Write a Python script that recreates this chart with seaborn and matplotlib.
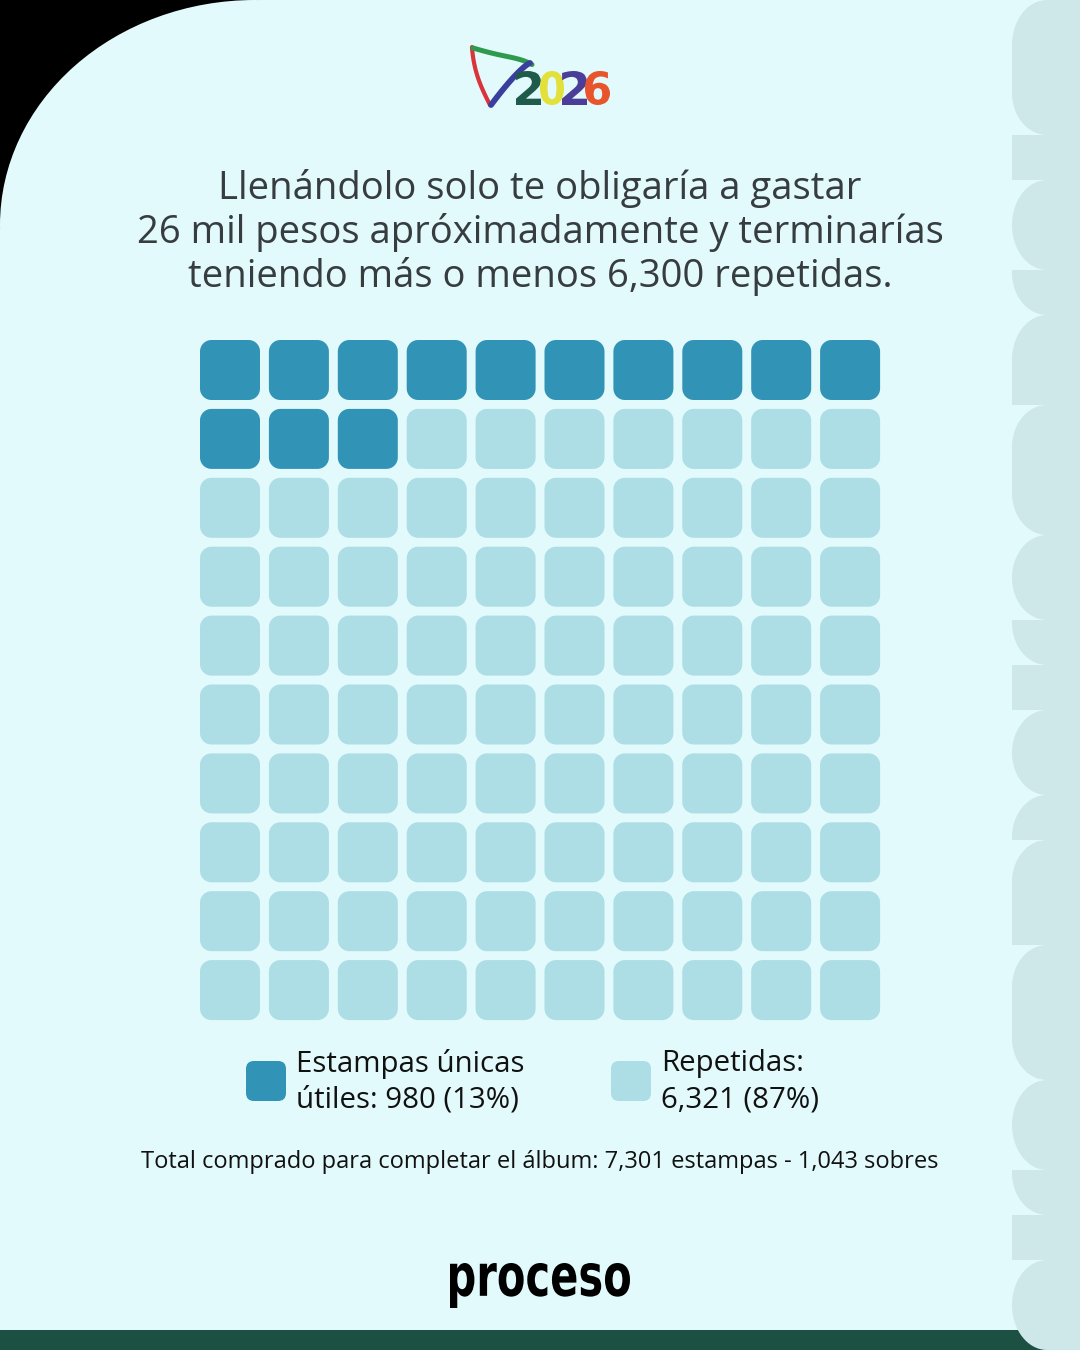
import numpy as np
import pandas as pd
import matplotlib
matplotlib.use("Agg")
import matplotlib.pyplot as plt
import seaborn as sns
from matplotlib.path import Path
from matplotlib.patches import PathPatch, Rectangle, Ellipse, FancyBboxPatch, Polygon
from matplotlib.textpath import TextPath
from matplotlib.font_manager import FontProperties
from matplotlib.transforms import Affine2D

# ---------------- data ----------------
categorias = ["Estampas únicas útiles", "Repetidas"]
estampas = [980, 6321]
sobres = 1043
titulo = ["Llenándolo solo te obligaría a gastar",
          "26 mil pesos apróximadamente y terminarías",
          "teniendo más o menos 6,300 repetidas."]
colores = ["#3193B5", "#ADDDE5"]

total = sum(estampas)
pct = [round(100 * v / total) for v in estampas]

# ---------------- style ----------------
sns.set_theme(style="white")
plt.rcParams["font.family"] = ["Open Sans", "DejaVu Sans"]

BG = "#E2FAFB"
STRIP = "#CEE8EA"
TXT = "#363C3F"

W, H = 1080, 1350
fig = plt.figure(figsize=(W / 100, H / 100), dpi=100, facecolor=BG)

ax_bg = fig.add_axes([0, 0, 1, 1])
ax_bg.set_xlim(0, W)
ax_bg.set_ylim(H, 0)
ax_bg.axis("off")
ax_bg.set_facecolor(BG)

# black top-left corner
ax_bg.add_patch(Rectangle((0, 0), 260, 230, color="black", zorder=1, lw=0))
ax_bg.add_patch(Ellipse((255, 225), 510, 450, color=BG, zorder=2, lw=0))

# bottom green bar
ax_bg.add_patch(Rectangle((0, 1330), W, 20, color="#1B5042", zorder=2, lw=0))

# right decorative strip
def strip_shape(y0, y1, rt, rb, x0=1012, rx=35):
    pts = [(W, y0)]
    if rt > 0:
        t = np.linspace(np.pi / 2, np.pi, 20)
        cx, cy = x0 + rx, y0 + rt
        pts += [(cx + rx * np.cos(a), cy - rt * np.sin(a)) for a in t]
    else:
        pts.append((x0, y0))
    if rb > 0:
        t = np.linspace(np.pi, 3 * np.pi / 2, 20)
        cx, cy = x0 + rx, y1 - rb
        pts += [(cx + rx * np.cos(a), cy - rb * np.sin(a)) for a in t]
    else:
        pts.append((x0, y1))
    pts.append((W, y1))
    return Polygon(pts, closed=True, color=STRIP, lw=0, zorder=3)

shapes = [(0, 90, 45, 0), (90, 135, 0, 42), (135, 180, 0, 0), (180, 270, 45, 45),
          (270, 315, 0, 42), (315, 405, 45, 0), (405, 535, 42, 42), (535, 620, 43, 42),
          (620, 665, 0, 42), (665, 710, 0, 0), (710, 795, 43, 42), (795, 840, 42, 0),
          (840, 945, 42, 0), (945, 1080, 42, 42), (1080, 1170, 45, 45), (1170, 1215, 0, 42),
          (1215, 1260, 0, 0), (1260, 1350, 45, 45)]
for s in shapes:
    ax_bg.add_patch(strip_shape(*s))

# ---------------- helper: text fitted to a pixel box ----------------
BOLD = FontProperties(family="DejaVu Sans", weight="bold")

def fitted_text(s, x0, x1, ytop, ybot, color, prop=BOLD, z=6):
    tp = TextPath((0, 0), s, size=1, prop=prop)
    ext = tp.get_extents()
    sx = (x1 - x0) / ext.width
    sy = (ybot - ytop) / ext.height
    tr = Affine2D().translate(-ext.x0, -ext.y1).scale(sx, -sy).translate(x0, ytop)
    ax_bg.add_patch(PathPatch(tr.transform_path(tp), color=color, lw=0, zorder=z))

# ---------------- top logo ----------------
tt = np.linspace(0, 1, 60)
# red stroke
rx_ = 472 + 18 * tt ** 1.1 - 3 * np.sin(np.pi * tt)
ry_ = 47 + 58 * tt
ax_bg.plot(rx_, ry_, color="#D8343A", lw=3.0, solid_capstyle="round", zorder=5)
# green stroke
gx = 473 + 59 * tt
gy = 48 + 9 * np.sin(np.pi * tt * 0.6) + 8 * tt ** 5
ax_bg.plot(gx, gy, color="#2E9A4E", lw=3.6, solid_capstyle="round", zorder=5)
# blue stroke
bx = 530 - 39 * tt ** 0.8
by = 63 + 42 * tt
ax_bg.plot(bx, by, color="#3A3F9E", lw=4.2, solid_capstyle="round", zorder=5)

digit_cols = ["#1E5B4B", "#E3E03A", "#4A3E98", "#E8542C"]
digit_boxes = [(516, 541), (540, 564), (562, 587), (585, 610)]
for ch, (xa, xb), c in zip("2026", digit_boxes, digit_cols):
    fitted_text(ch, xa, xb, 71, 105, c)

# ---------------- title ----------------
for i, line in enumerate(titulo):
    ax_bg.text(540, 188 + 44.5 * i, line, ha="center", va="center", fontsize=27.5,
               color=TXT, zorder=6)

# ---------------- waffle ----------------
n_cells = 100
n_dark = pct[0]
cells = pd.DataFrame({"idx": np.arange(n_cells)})
cells["col"] = cells["idx"] % 10
cells["row"] = cells["idx"] // 10
cells["tipo"] = np.where(cells["idx"] < n_dark, categorias[0], categorias[1])

def rounded_square(r=0.38, n=12):
    verts = []
    corners = [(1 - r, 1 - r, 0), (-1 + r, 1 - r, 90), (-1 + r, -1 + r, 180), (1 - r, -1 + r, 270)]
    for cx, cy, a0 in corners:
        for a in np.linspace(np.radians(a0), np.radians(a0 + 90), n):
            verts.append((cx + r * np.cos(a), cy + r * np.sin(a)))
    verts.append(verts[0])
    codes = [Path.MOVETO] + [Path.LINETO] * (len(verts) - 2) + [Path.CLOSEPOLY]
    return Path(verts, codes)

marker = rounded_square()
pitch = 68.9
left_px = 230 - pitch / 2
top_px = 370 - pitch / 2
ax_w = fig.add_axes([left_px / W, 1 - (top_px + 10 * pitch) / H, 10 * pitch / W, 10 * pitch / H])
ax_w.patch.set_alpha(0)
ax_w.set_zorder(5)
cell_pt = 60 * 0.72
sns.scatterplot(data=cells, x="col", y="row", hue="tipo",
                palette=dict(zip(categorias, colores)), marker=marker,
                s=cell_pt ** 2, linewidth=0, edgecolor="none", legend=False, ax=ax_w)
ax_w.set_xlim(-0.5, 9.5)
ax_w.set_ylim(9.5, -0.5)
ax_w.axis("off")

# ---------------- legend ----------------
leg_fs = 21.2
ax_bg.add_patch(FancyBboxPatch((246, 1061), 40, 40, boxstyle="round,pad=0,rounding_size=8",
                               color=colores[0], lw=0, zorder=6))
ax_bg.add_patch(FancyBboxPatch((611, 1061), 40, 40, boxstyle="round,pad=0,rounding_size=8",
                               color=colores[1], lw=0, zorder=6))
ax_bg.text(296, 1064, "Estampas únicas", ha="left", va="center", fontsize=leg_fs, color="#111111", zorder=6)
ax_bg.text(296, 1100, f"útiles: {estampas[0]:,} ({pct[0]}%)", ha="left", va="center",
           fontsize=leg_fs, color="#111111", zorder=6)
ax_bg.text(661, 1064, "Repetidas:", ha="left", va="center", fontsize=leg_fs, color="#111111", zorder=6)
ax_bg.text(661, 1100, f"{estampas[1]:,} ({pct[1]}%)", ha="left", va="center",
           fontsize=leg_fs, color="#111111", zorder=6)

# ---------------- footer ----------------
ax_bg.text(540, 1162, f"Total comprado para completar el álbum: {total:,} estampas - {sobres:,} sobres",
           ha="center", va="center", fontsize=17, color="#111111", zorder=6)

# "proceso" logo, fitted to its box
fitted_text("proceso", 450, 630, 1263, 1308, "black")

fig.savefig("out.png", dpi=100, facecolor=BG)
